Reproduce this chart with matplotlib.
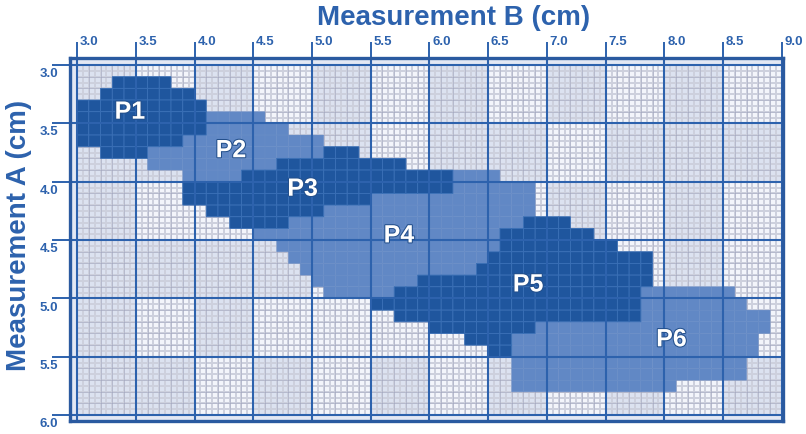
import numpy as np
import matplotlib.pyplot as plt
import matplotlib.patheffects as pe
from matplotlib.colors import ListedColormap

plt.rcParams['font.family'] = ['Liberation Sans', 'DejaVu Sans']

# each region: top of each 0.1 cm row (Measurement A) and left/right edge (Measurement B), in cm
p1_rows = [3.1, 3.2, 3.3, 3.4, 3.5, 3.6, 3.7]
p1_left = [3.3, 3.2, 3.0, 3.0, 3.0, 3.0, 3.2]
p1_right = [3.8, 4.0, 4.1, 4.1, 4.1, 3.9, 3.6]

p2_rows = [3.4, 3.5, 3.6, 3.7, 3.8, 3.9]
p2_left = [4.1, 4.1, 3.9, 3.6, 3.6, 3.9]
p2_right = [4.6, 4.8, 5.1, 5.1, 4.7, 4.4]

p3_rows = [3.7, 3.8, 3.9, 4.0, 4.1, 4.2, 4.3]
p3_left = [5.1, 4.7, 4.4, 3.9, 3.9, 4.1, 4.3]
p3_right = [5.4, 5.8, 6.2, 6.2, 5.5, 5.1, 4.8]

p4_rows = [3.9, 4.0, 4.1, 4.2, 4.3, 4.4, 4.5, 4.6, 4.7, 4.8, 4.9]
p4_left = [6.2, 6.2, 5.5, 5.1, 4.8, 4.5, 4.7, 4.8, 4.9, 5.0, 5.1]
p4_right = [6.6, 6.9, 6.9, 6.9, 6.8, 6.6, 6.6, 6.5, 6.4, 5.9, 5.7]

p5_rows = [4.3, 4.4, 4.5, 4.6, 4.7, 4.8, 4.9, 5.0, 5.1, 5.2, 5.3, 5.4]
p5_left = [6.8, 6.6, 6.6, 6.5, 6.4, 5.9, 5.7, 5.5, 5.7, 6.0, 6.3, 6.5]
p5_right = [7.2, 7.4, 7.6, 7.9, 7.9, 7.9, 7.8, 7.8, 7.8, 6.9, 6.7, 6.7]

p6_rows = [4.9, 5.0, 5.1, 5.2, 5.3, 5.4, 5.5, 5.6, 5.7]
p6_left = [7.8, 7.8, 7.8, 6.9, 6.7, 6.7, 6.7, 6.7, 6.7]
p6_right = [8.6, 8.7, 8.9, 8.9, 8.8, 8.8, 8.7, 8.7, 8.1]

region_names = ["P1", "P2", "P3", "P4", "P5", "P6"]
label_x = [3.45, 4.31, 4.92, 5.74, 6.84, 8.06]
label_y = [3.40, 3.73, 4.06, 4.46, 4.88, 5.35]

x_ticks = [3.0, 3.5, 4.0, 4.5, 5.0, 5.5, 6.0, 6.5, 7.0, 7.5, 8.0, 8.5, 9.0]
y_ticks = [3.0, 3.5, 4.0, 4.5, 5.0, 5.5, 6.0]

# shading of the 0.5 cm background blocks (0 light, 1 grey)
block_shade = [
    [1, 0, 1, 0, 1, 0, 1, 0, 1, 0, 1, 0],
    [1, 1, 0, 1, 1, 0, 1, 1, 0, 1, 1, 1],
    [1, 0, 0, 0, 1, 0, 1, 0, 1, 0, 1, 0],
    [1, 1, 1, 1, 0, 0, 0, 1, 0, 0, 1, 0],
    [1, 0, 1, 0, 0, 0, 0, 0, 0, 0, 1, 0],
    [1, 1, 0, 1, 0, 1, 0, 1, 0, 1, 0, 1],
]

blue = '#2d62ad'
dark = '#1f569e'
medium = '#6188c5'

fig = plt.figure(figsize=(8.06, 4.35), dpi=100)
ax = fig.add_axes([70 / 806, 1 - 422 / 435, 713 / 806, 363 / 435])
ax.set_facecolor('#e3e8f4')

# background grid, 0.05 cm cells
bg = np.kron(np.array(block_shade), np.ones((10, 10)))
xf = np.linspace(3.0, 9.0, bg.shape[1] + 1)
yf = np.linspace(3.0, 6.0, bg.shape[0] + 1)
ax.pcolormesh(xf, yf, bg, cmap=ListedColormap(['#f3f5fb', '#dce2f0']),
              edgecolors='#cdd0dd', linewidth=0.3, zorder=1)
fine = np.round(np.arange(3.0, 9.001, 0.1), 2)
ax.vlines(fine, 3.0, 6.0, color='#9397b3', lw=0.6, alpha=0.45, zorder=1.5)
ax.hlines(fine[fine <= 6.0], 3.0, 9.0, color='#9397b3', lw=0.6, alpha=0.45, zorder=1.5)

# region cells, 0.1 cm
cls = np.zeros((30, 60))
regions = [(p1_rows, p1_left, p1_right, 1), (p2_rows, p2_left, p2_right, 2),
           (p3_rows, p3_left, p3_right, 1), (p4_rows, p4_left, p4_right, 2),
           (p5_rows, p5_left, p5_right, 1), (p6_rows, p6_left, p6_right, 2)]
for rows, lefts, rights, code in regions:
    for r, l, rt in zip(rows, lefts, rights):
        i = int(round((r - 3.0) / 0.1))
        cls[i, int(round((l - 3.0) / 0.1)):int(round((rt - 3.0) / 0.1))] = code
xe = np.linspace(3.0, 9.0, 61)
ye = np.linspace(3.0, 6.0, 31)
ax.pcolor(xe, ye, np.ma.masked_where(cls != 2, cls), cmap=ListedColormap([medium]),
          edgecolors='#6a8fc9', linewidth=0.3, zorder=2)
ax.pcolor(xe, ye, np.ma.masked_where(cls != 1, cls), cmap=ListedColormap([dark]),
          edgecolors='#3a70b7', linewidth=0.6, zorder=2.1)

# major lines
ax.vlines(x_ticks, 2.94, 6.05, color=blue, lw=1.5, zorder=3)
ax.hlines(y_ticks, 2.94, 9.01, color=blue, lw=1.5, zorder=3)

for name, lx, ly in zip(region_names, label_x, label_y):
    ax.text(lx, ly, name, color='white', fontsize=18, fontweight='bold', ha='center', va='center',
            zorder=5, path_effects=[pe.withStroke(linewidth=1.5, foreground='#24508c')])

ax.set_xlim(2.94, 9.01)
ax.set_ylim(6.05, 2.94)
ax.set_xticks(x_ticks)
ax.set_yticks(y_ticks)
ax.xaxis.tick_top()
ax.tick_params(axis='x', length=11.5, width=1.4, color=blue, labeltop=False, labelbottom=False)
ax.tick_params(axis='y', length=13, width=1.4, color=blue, labelleft=False)
for s in ax.spines.values():
    s.set_color('#2a5aa0')
    s.set_linewidth(2.4)
    s.set_zorder(6)

for x in x_ticks:
    ax.annotate(f"{x:.1f}", xy=(x, 1), xycoords=('data', 'axes fraction'), xytext=(2, 8),
                textcoords='offset points', ha='left', va='bottom', fontsize=9.5,
                fontweight='bold', color=blue, annotation_clip=False)
for y in y_ticks:
    ax.annotate(f"{y:.1f}", xy=(0, y), xycoords=('axes fraction', 'data'), xytext=(-8.5, -1.5),
                textcoords='offset points', ha='right', va='top', fontsize=9.5,
                fontweight='bold', color=blue, annotation_clip=False)

fig.text(454 / 806, 1 - 25 / 435, "Measurement B (cm)", ha='center', va='baseline',
         fontsize=20, fontweight='bold', color=blue)
fig.text(19 / 806, 1 - 235 / 435, "Measurement A (cm)", ha='center', va='center', rotation=90,
         fontsize=20, fontweight='bold', color=blue)

fig.savefig('out.png', dpi=100)
